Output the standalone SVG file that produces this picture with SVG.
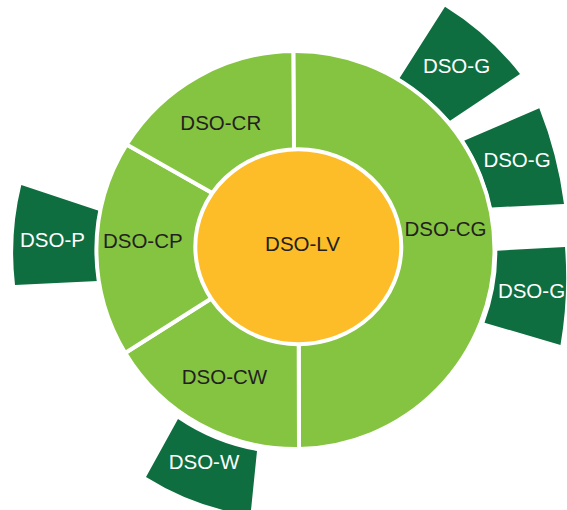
<svg xmlns="http://www.w3.org/2000/svg" width="567" height="510" viewBox="0 0 567 510">
<style>
.ring{fill:#84C441;stroke:#fff;stroke-width:4;stroke-linejoin:round}
.core{fill:#FDBD28;stroke:#fff;stroke-width:4}
.outer{fill:#0E6E3F}
text{font-family:"Liberation Sans",Arial,sans-serif;font-size:20.5px;text-anchor:middle}
.dk{fill:#231F20}
.wt{fill:#fff}
</style>
<rect width="567" height="510" fill="#fff"/>
<g id="outer-nodes">
<g id="dso-g-1"><path class="outer" d="M399,79 L445,6.7 A285,285 0 0 1 520,74 L450,120.7 A201,201 0 0 0 399,79 Z"/><text class="wt" x="456.5" y="73.3">DSO-G</text></g>
<g id="dso-g-2"><path class="outer" d="M464,140.7 L539.3,108.3 A400,400 0 0 1 564,204 L491.5,207.5 A201,201 0 0 0 464,140.7 Z"/><text class="wt" x="517" y="166.7">DSO-G</text></g>
<g id="dso-g-3"><path class="outer" d="M497.3,250.7 L565,247 A400,400 0 0 1 560.5,345 L484.5,322.7 A201,201 0 0 0 497.3,250.7 Z"/><text class="wt" x="531.5" y="298.3">DSO-G</text></g>
<g id="dso-p"><path class="outer" d="M98.7,210.7 L21.3,185 A283,283 0 0 0 15,285 L98,281 A200,200 0 0 1 98.7,210.7 Z"/><text class="wt" x="52.5" y="246.7">DSO-P</text></g>
<g id="dso-w"><path class="outer" d="M178,419 A205,205 0 0 0 257,451 L251,510 L223,510 A271,271 0 0 1 146,477 Z"/><text class="wt" x="204" y="469">DSO-W</text></g>
</g>
<g id="connectors"></g>
<g id="dso-cg"><path class="ring" d="M293.3,51 A199,199 0 0 1 494.5,250 A199,199 0 0 1 299,449 L298.7,342 L298.3,246.7 L294,152 Z"/><text class="dk" x="445.5" y="236">DSO-CG</text></g>
<g id="dso-cw"><path class="ring" d="M299,449 A199,199 0 0 1 125.2,353 L212,298 L298.3,246.7 L298.7,342 Z"/><text class="dk" x="224.5" y="384">DSO-CW</text></g>
<g id="dso-cp"><path class="ring" d="M125.2,353 A199,199 0 0 1 126.6,144.5 L214,194 L298.3,246.7 L212,298 Z"/><text class="dk" x="142.8" y="248.3">DSO-CP</text></g>
<g id="dso-cr"><path class="ring" d="M126.6,144.5 A199,199 0 0 1 293.3,51 L294,152 L298.3,246.7 L214,194 Z"/><text class="dk" x="220.8" y="130">DSO-CR</text></g>
<g id="dso-lv"><ellipse class="core" cx="298.3" cy="246.7" rx="103" ry="97.5"/><text class="dk" x="302.5" y="250.7">DSO-LV</text></g>
</svg>
